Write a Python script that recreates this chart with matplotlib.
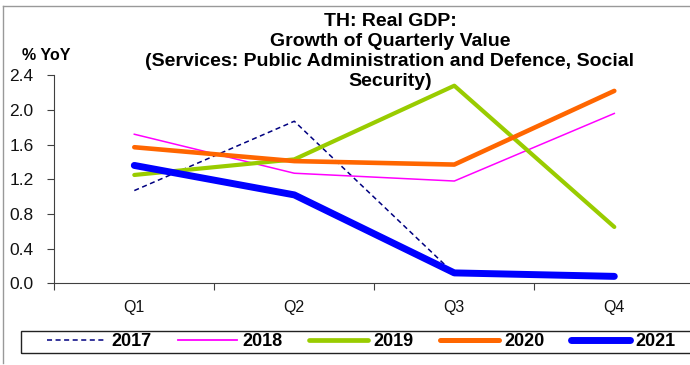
import matplotlib.pyplot as plt
import numpy as np
from matplotlib.lines import Line2D
from matplotlib.patches import Rectangle

plt.rcParams['font.family'] = ['Liberation Sans', 'DejaVu Sans']

# data
quarters = ['Q1', 'Q2', 'Q3', 'Q4']
y2017 = [1.07, 1.87, 0.11, np.nan]
y2018 = [1.72, 1.27, 1.18, 1.96]
y2019 = [1.25, 1.43, 2.28, 0.65]
y2020 = [1.57, 1.41, 1.37, 2.22]
y2021 = [1.36, 1.02, 0.12, 0.08]
yticks = [0.0, 0.4, 0.8, 1.2, 1.6, 2.0, 2.4]

W, H = 690, 365
fig = plt.figure(figsize=(6.9, 3.65), dpi=100)
ax = fig.add_axes([54.3 / W, 1 - 283.3 / H, 640 / W, 208 / H])

x = np.arange(len(quarters))
ax.plot(x, y2017, color='#000080', lw=1.1, ls=(0, (3.3, 2.3)), label='2017')
ax.plot(x, y2018, color='#FF00FF', lw=1.1, label='2018')
ax.plot(x, y2019, color='#99CC00', lw=3.0, solid_capstyle='round', label='2019')
ax.plot(x, y2020, color='#FF6600', lw=3.3, solid_capstyle='round', label='2020')
ax.plot(x, y2021, color='#0000FF', lw=5.0, solid_capstyle='round', label='2021')

ax.set_ylim(0, 2.4)
ax.set_yticks(yticks)
ax.set_yticklabels(['%.1f' % v for v in yticks], fontsize=12.5, color='#111111')
ax.set_xlim(-0.5, 3.5)
ax.set_xticks(np.arange(-0.5, 4.0, 1.0))
ax.set_xticklabels([])
ax.set_xticks(x, minor=True)
ax.set_xticklabels(quarters, minor=True, fontsize=11.5, color='#111111')
ax.tick_params(axis='x', which='minor', length=0, pad=12)
ax.tick_params(axis='x', which='major', length=5, direction='out', color='#404040')
ax.tick_params(axis='y', length=5, direction='out', color='#404040', pad=10)
for s in ['top', 'right']:
    ax.spines[s].set_visible(False)
ax.spines['left'].set_color('#404040')
ax.spines['bottom'].set_color('#404040')

fig.text(390 / W, 1 - 13 / H,
         'TH: Real GDP:\nGrowth of Quarterly Value\n(Services: Public Administration and Defence, Social\nSecurity)',
         ha='center', va='top', fontsize=14, fontweight='bold', linespacing=1.22)
fig.text(22.5 / W, 1 - 56 / H, '% YoY', ha='left', va='center', fontsize=11.5, fontweight='bold')

# chart border
fig.add_artist(Line2D([3.5 / W, 3.5 / W], [1 - 363 / H, 1 - 6 / H], color='#999999', lw=1))
fig.add_artist(Line2D([3.5 / W, 1], [1 - 6 / H, 1 - 6 / H], color='#999999', lw=1))

# legend box
fig.add_artist(Rectangle((21 / W, 1 - 352.7 / H), 1, 22 / H, transform=fig.transFigure,
                         facecolor='none', edgecolor='#222222', lw=1))
leg = fig.legend(loc='center left', bbox_to_anchor=(46.7 / W, 1 - 341.7 / H),
                 ncol=5, frameon=False, prop={'weight': 'bold', 'size': 13},
                 handlelength=3.3, handletextpad=0.28, columnspacing=1.45,
                 borderpad=0, borderaxespad=0)
for h, lw in zip(leg.get_lines(), [1.1, 1.3, 3.4, 3.6, 5.0]):
    h.set_linewidth(lw)

fig.savefig('out.png', dpi=100)
